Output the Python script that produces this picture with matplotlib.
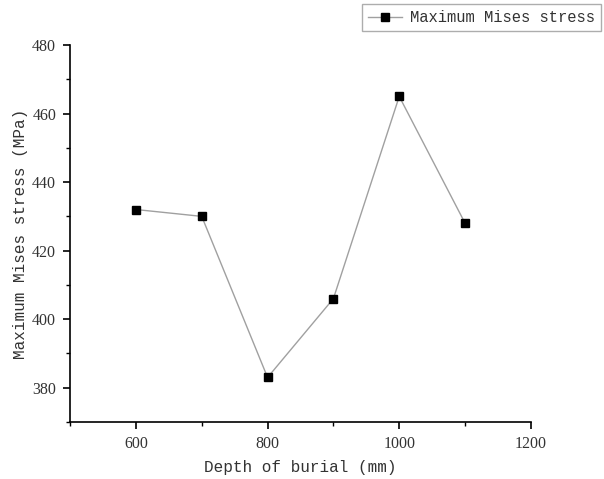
import numpy as np
import matplotlib.pyplot as plt

# Data
depth = [600, 700, 800, 900, 1000, 1100]
stress = [432, 430, 383, 406, 465, 428]

fig = plt.figure(figsize=(6.04, 4.79), dpi=100)
ax = fig.add_axes([0.116, 0.119, 0.763, 0.787])

ax.plot(depth, stress, color='#a0a0a0', linewidth=1.0, marker='s',
        markersize=6, markerfacecolor='black', markeredgecolor='black',
        label='Maximum Mises stress')

ax.set_xlim(500, 1200)
ax.set_ylim(370, 480)
ax.set_xticks([600, 800, 1000, 1200])
ax.set_xticks([500, 700, 900, 1100], minor=True)
ax.set_yticks([380, 400, 420, 440, 460, 480])
ax.set_yticks(np.arange(370, 481, 10), minor=True)

for s in ['top', 'right']:
    ax.spines[s].set_visible(False)
for s in ['left', 'bottom']:
    ax.spines[s].set_linewidth(1.2)

ax.tick_params(which='major', direction='out', length=5, width=1.2, pad=5)
ax.tick_params(which='minor', direction='out', length=3, width=1.0)
for lab in ax.get_xticklabels() + ax.get_yticklabels():
    lab.set_fontfamily('Liberation Serif')
    lab.set_fontsize(11.5)
    lab.set_color('#333333')

ax.set_xlabel('Depth of burial (mm)', fontfamily='Liberation Mono',
              fontsize=11.5, color='#333333', labelpad=6)
ax.set_ylabel('Maximum Mises stress (MPa)', fontfamily='Liberation Mono',
              fontsize=11.5, color='#333333', labelpad=3)

leg = fig.legend(loc='upper left', bbox_to_anchor=(0.596, 0.995),
                 prop={'family': 'Liberation Mono', 'size': 11.2},
                 frameon=True, fancybox=False, edgecolor='#999999',
                 handlelength=2.2, borderpad=0.4, handletextpad=0.5,
                 borderaxespad=0.1)
for t in leg.get_texts():
    t.set_color('#333333')

fig.savefig('out.png', dpi=100)
